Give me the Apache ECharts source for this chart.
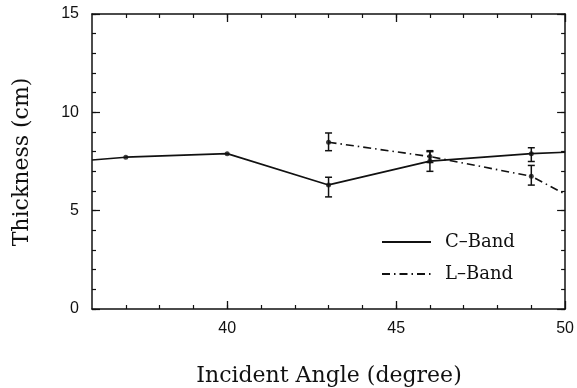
<!DOCTYPE html>
<html><head><meta charset="utf-8">
<script src="https://cdn.jsdelivr.net/npm/echarts@6/dist/echarts.min.js"></script>
<style>html,body{margin:0;padding:0;background:#fff}#c{width:577px;height:388px}</style>
</head><body><div id="c"></div>
<script>
const xMin = 36, xMax = 50, yMin = 0, yMax = 15;
const xMajor = [40, 45, 50];
const yMajorStep = 5;
// C-Band line (edges at 36 and 50 are where the curve leaves the frame)
const cAngle = [36, 37, 40, 43, 46, 49, 50];
const cThick = [7.58, 7.72, 7.9, 6.31, 7.52, 7.9, 7.97];
const cDotAngle = [37, 40, 43, 46, 49];
const cDotThick = [7.72, 7.9, 6.31, 7.52, 7.9];
const cErrAngle = [43, 46, 49];
const cErrLow = [5.7, 7.0, 7.5];
const cErrHigh = [6.7, 8.0, 8.2];
// L-Band line
const lAngle = [43, 46, 49, 50];
const lThick = [8.48, 7.75, 6.75, 5.84];
const lDotAngle = [43, 46, 49];
const lDotThick = [8.48, 7.75, 6.75];
const lErrAngle = [43, 46, 49];
const lErrLow = [8.05, 7.45, 6.3];
const lErrHigh = [8.95, 8.05, 7.3];

const zip = (a, b) => a.map((v, i) => [v, b[i]]);
const zip3 = (a, b, c) => a.map((v, i) => [v, b[i], c[i]]);
const minorX = []; for (let v = xMin + 1; v < xMax; v++) minorX.push(v);

const sans = 'Liberation Sans';
const serif = 'DejaVu Serif';
const black = '#111';

function xAx(pos, major, labels) {
  return {
    type: 'value', position: pos, min: xMin, max: xMax,
    axisLine: { show: major, onZero: false, lineStyle: { color: black, width: 1.5 } },
    axisTick: major
      ? { show: true, inside: true, length: 8, customValues: xMajor, lineStyle: { color: black, width: 1.3 } }
      : { show: true, inside: true, length: 4, customValues: minorX, lineStyle: { color: black, width: 1.2 } },
    axisLabel: labels
      ? { show: true, customValues: xMajor, color: black, fontFamily: sans, fontSize: 16, margin: 12 }
      : { show: false },
    splitLine: { show: false }
  };
}
function yAx(pos, major, labels) {
  return {
    type: 'value', position: pos, min: yMin, max: yMax, interval: major ? yMajorStep : 1,
    axisLine: { show: major, onZero: false, lineStyle: { color: black, width: 1.5 } },
    axisTick: { show: true, inside: true, length: major ? 8 : 4, lineStyle: { color: black, width: 1.2 } },
    axisLabel: labels
      ? { show: true, color: black, fontFamily: sans, fontSize: 16, margin: 13 }
      : { show: false },
    splitLine: { show: false }
  };
}

function errItem(params, api) {
  const x = api.value(0);
  const p1 = api.coord([x, api.value(1)]);
  const p2 = api.coord([x, api.value(2)]);
  const w = 3.5;
  const st = { stroke: black, lineWidth: 1.5 };
  return { type: 'group', children: [
    { type: 'line', shape: { x1: p1[0], y1: p1[1], x2: p2[0], y2: p2[1] }, style: st },
    { type: 'line', shape: { x1: p1[0] - w, y1: p1[1], x2: p1[0] + w, y2: p1[1] }, style: st },
    { type: 'line', shape: { x1: p2[0] - w, y1: p2[1], x2: p2[0] + w, y2: p2[1] }, style: st }
  ]};
}

const chart = echarts.init(document.getElementById('c'), null, { renderer: 'canvas' });
chart.setOption({
  backgroundColor: '#fff',
  animation: false,
  grid: { left: 92, right: 11, top: 14, bottom: 79 },
  xAxis: [xAx('bottom', true, true), xAx('bottom', false, false), xAx('top', true, false), xAx('top', false, false)],
  yAxis: [yAx('left', true, true), yAx('left', false, false), yAx('right', true, false), yAx('right', false, false)],
  legend: {
    orient: 'vertical', left: 376, top: 228, itemWidth: 49, itemHeight: 14, itemGap: 14,
    data: ['C–Band', 'L–Band'],
    itemStyle: { opacity: 0 },
    textStyle: { fontFamily: serif, fontSize: 18, color: black, padding: [0, 0, 0, 9] },
    selectedMode: false
  },
  graphic: [
    { type: 'text', style: { text: 'Incident Angle (degree)', fontFamily: serif, fontSize: 22, fill: black, textAlign: 'center', textVerticalAlign: 'middle' }, x: 329, y: 376 },
    { type: 'text', style: { text: 'Thickness (cm)', fontFamily: serif, fontSize: 22, fill: black, textAlign: 'center', textVerticalAlign: 'middle' }, x: 22, y: 162, rotation: Math.PI / 2 }
  ],
  series: [
    { name: 'C–Band', type: 'line', data: zip(cAngle, cThick), symbol: 'none', clip: true,
      lineStyle: { color: black, width: 1.6, type: 'solid' }, itemStyle: { color: black } },
    { name: 'L–Band', type: 'line', data: zip(lAngle, lThick), symbol: 'none', clip: true,
      lineStyle: { color: black, width: 1.6, type: [8, 4, 1.5, 4] }, itemStyle: { color: black } },
    { type: 'scatter', data: zip(cDotAngle, cDotThick), symbol: 'circle', symbolSize: 5, itemStyle: { color: black } },
    { type: 'scatter', data: zip(lDotAngle, lDotThick), symbol: 'circle', symbolSize: 5, itemStyle: { color: black } },
    { type: 'custom', data: zip3(cErrAngle, cErrLow, cErrHigh), renderItem: errItem, encode: { x: 0, y: [1, 2] } },
    { type: 'custom', data: zip3(lErrAngle, lErrLow, lErrHigh), renderItem: errItem, encode: { x: 0, y: [1, 2] } }
  ]
});
</script></body></html>
